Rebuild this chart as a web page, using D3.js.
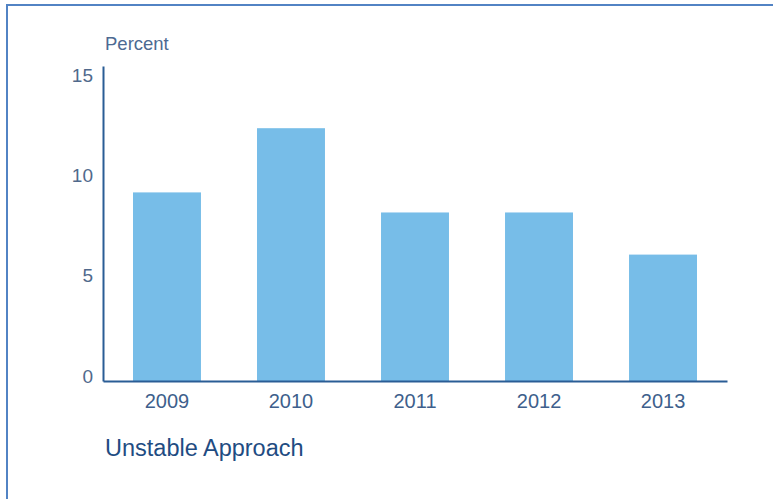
<!DOCTYPE html>
<html>
<head>
<meta charset="utf-8">
<script src="https://cdn.jsdelivr.net/npm/d3@7"></script>
<style>
  body { margin: 0; background: #fff; }
  svg { display: block; font-family: "Liberation Sans", Arial, Helvetica, sans-serif; }
</style>
</head>
<body>
<svg id="chart" width="773" height="499"></svg>
<script>
// data
const years = ["2009", "2010", "2011", "2012", "2013"];
const percent = [9.4, 12.6, 8.4, 8.4, 6.3];
const yTicks = [0, 5, 10, 15];

const width = 773;
const height = 499;

const margin = { left: 103, right: 46, top: 66, bottom: 118 };

const svg = d3.select("#chart");

// outer frame, runs off the right and bottom edge
svg.append("rect")
   .attr("x", 7)
   .attr("y", 5)
   .attr("width", 820)
   .attr("height", 540)
   .attr("fill", "none")
   .attr("stroke", "#5283c4")
   .attr("stroke-width", 2);

const x = d3.scaleBand()
            .domain(years)
            .range([margin.left, width - margin.right])
            .paddingInner(0.452)
            .paddingOuter(0.242);

const y = d3.scaleLinear()
            .domain([0, 15.7])
            .range([height - margin.bottom, margin.top]);

svg.selectAll("rect.bar")
   .data(percent)
   .enter()
   .append("rect")
   .attr("class", "bar")
   .attr("x", (d, i) => x(years[i]))
   .attr("y", d => y(d))
   .attr("width", x.bandwidth())
   .attr("height", d => y(0) - y(d))
   .attr("fill", "#77bde8");

// y axis
const gy = svg.append("g")
              .attr("transform", `translate(${margin.left},0)`)
              .call(d3.axisLeft(y).tickValues(yTicks).tickSize(0).tickSizeOuter(0).tickPadding(10));
gy.select(".domain").attr("stroke", "#2a5d95").attr("stroke-width", 2);
gy.selectAll("text")
  .attr("transform", "translate(0,-5)")
  .attr("fill", "#50698c")
  .style("font-size", "19px");

// x axis
const gx = svg.append("g")
              .attr("transform", `translate(0,${y(0)})`)
              .call(d3.axisBottom(x).tickSize(0).tickSizeOuter(0).tickPadding(13));
gx.select(".domain").attr("stroke", "#2a5d95").attr("stroke-width", 2);
gx.selectAll("text")
  .attr("fill", "#3e5f8c")
  .style("font-size", "20px");

// unit label
svg.append("text")
   .attr("x", 105)
   .attr("y", 50)
   .attr("fill", "#4d6a92")
   .style("font-size", "18.5px")
   .text("Percent");

// chart title
svg.append("text")
   .attr("x", 105)
   .attr("y", 456)
   .attr("fill", "#1f4c82")
   .style("font-size", "23.5px")
   .text("Unstable Approach");
</script>
</body>
</html>
